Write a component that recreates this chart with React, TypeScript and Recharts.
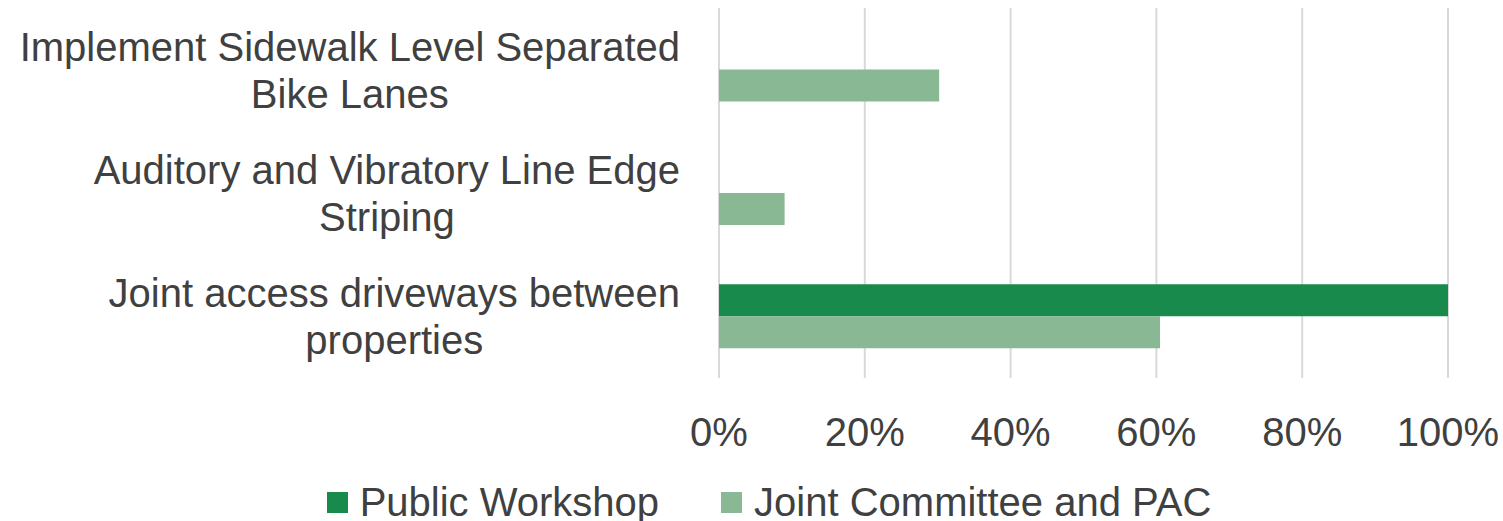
import { BarChart, Bar, XAxis, YAxis, CartesianGrid, Legend } from "recharts";

const categoryLines = [
  ["Implement Sidewalk Level Separated", "Bike Lanes"],
  ["Auditory and Vibratory Line Edge", "Striping"],
  ["Joint access driveways between", "properties"],
];
const publicWorkshop = [0, 0, 1.0];
const jointCommittee = [0.302, 0.09, 0.605];
const xTicks = [0, 0.2, 0.4, 0.6, 0.8, 1.0];
const seriesNames = ["Public Workshop", "Joint Committee and PAC"];

const DARK = "#178A4C";
const LIGHT = "#88B894";
const TEXT = "#404040";
const FONT = "'Liberation Sans', Arial, sans-serif";
const FS = 40;

const data = categoryLines.map((lines, i) => ({
  name: lines.join(" "),
  pw: publicWorkshop[i],
  jc: jointCommittee[i],
}));

let ctx: CanvasRenderingContext2D | null = null;
function textWidth(s: string) {
  if (!ctx) ctx = document.createElement("canvas").getContext("2d");
  if (!ctx) return s.length * FS * 0.5;
  ctx.font = `${FS}px ${FONT}`;
  return ctx.measureText(s).width;
}

// two-line label, lines centred on each other, block right-aligned to the axis
function CategoryTick(props: any) {
  const { x, y, index } = props;
  const lines = categoryLines[index] ?? [];
  const w = Math.max(...lines.map(textWidth));
  const cx = x - w / 2;
  return (
    <text x={cx} y={y} textAnchor="middle" fill={TEXT} fontSize={FS} fontFamily={FONT}>
      {lines.map((l: string, i: number) => (
        <tspan key={i} x={cx} dy={i === 0 ? -9 : 47}>
          {l}
        </tspan>
      ))}
    </text>
  );
}

function LegendContent() {
  const colors = [DARK, LIGHT];
  return (
    <div
      style={{
        display: "flex",
        justifyContent: "center",
        gap: 62,
        fontFamily: FONT,
        fontSize: FS,
        color: TEXT,
        paddingLeft: 90,
        height: 38,
        lineHeight: "38px",
      }}
    >
      {seriesNames.map((n, i) => (
        <div key={n} style={{ display: "flex", alignItems: "center" }}>
          <span style={{ width: 21, height: 21, background: colors[i], marginRight: 12, display: "inline-block" }} />
          {n}
        </div>
      ))}
    </div>
  );
}

export default function App() {
  return (
    <div style={{ position: "absolute", left: 0, top: 0, background: "#fff" }}>
      <BarChart
        width={1503}
        height={521}
        data={data}
        layout="vertical"
        margin={{ top: 8, right: 55, bottom: 0, left: 0 }}
        barCategoryGap="24%"
        barGap={0}
      >
        <CartesianGrid horizontal={false} stroke="#D9D9D9" strokeWidth={2} />
        <XAxis
          type="number"
          domain={[0, 1]}
          ticks={xTicks}
          tickFormatter={(v: number) => `${Math.round(v * 100)}%`}
          axisLine={false}
          tickLine={false}
          tickSize={0}
          tickMargin={40}
          height={105}
          tick={{ fill: TEXT, fontSize: FS, fontFamily: FONT }}
        />
        <YAxis
          type="category"
          dataKey="name"
          width={719}
          axisLine={false}
          tickLine={false}
          tickSize={0}
          tickMargin={39}
          tick={<CategoryTick />}
        />
        <Legend verticalAlign="bottom" height={38} content={<LegendContent />} />
        <Bar dataKey="pw" name={seriesNames[0]} fill={DARK} isAnimationActive={false} />
        <Bar dataKey="jc" name={seriesNames[1]} fill={LIGHT} isAnimationActive={false} />
      </BarChart>
    </div>
  );
}
